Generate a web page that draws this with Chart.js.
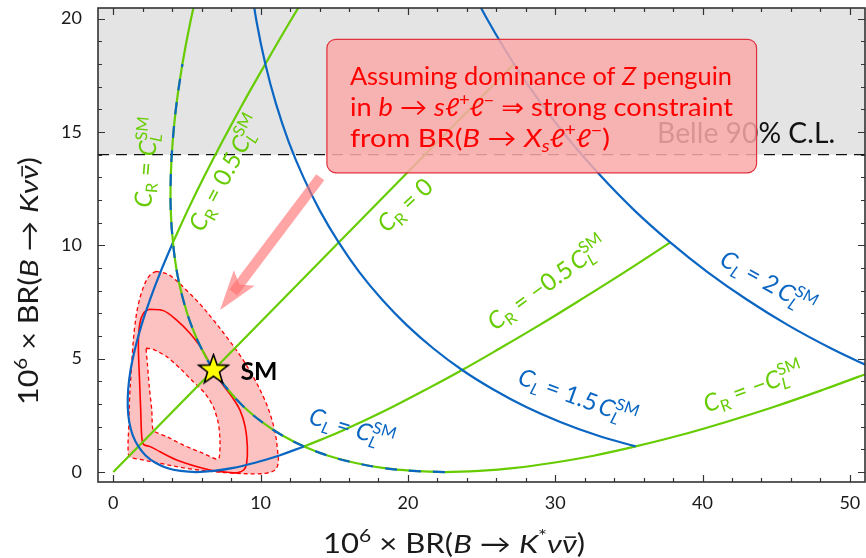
<!DOCTYPE html>
<html>
<head>
<meta charset="utf-8">
<script src="https://cdn.jsdelivr.net/npm/chart.js@4.4.1/dist/chart.umd.min.js"></script>
<style>
  html, body { margin: 0; padding: 0; background: #ffffff; }
  #wrap { width: 866px; height: 558px; }
</style>
</head>
<body>
<div id="wrap"><canvas id="c" width="866" height="558"></canvas></div>
<script>
// ---- axis ticks ----
const xTickLabels = [0, 10, 20, 30, 40, 50];
const yTickLabels = [0, 5, 10, 15, 20];
const xTickMarks = [0, 2, 4, 6, 8, 10, 12, 14, 16, 18, 20, 22, 24, 26, 28, 30, 32, 34, 36, 38, 40, 42, 44, 46, 48, 50];
const yTickMarks = [0, 1, 2, 3, 4, 5, 6, 7, 8, 9, 10, 11, 12, 13, 14, 15, 16, 17, 18, 19, 20];

// ---- experimental bound ----
const belleLimit = 14;

// ---- Standard Model point: [BR(K* nu nu), BR(K nu nu)] x 1e6 ----
const smPoint = [6.8, 4.5];

// ---- C_L = C_L^SM curve (same locus as C_R = +-C_L^SM), C_R from -2 to 1.2 ----
const clOneX = [51.82, 48.27, 44.87, 41.60, 38.46, 35.46, 32.60, 29.87, 27.28, 24.83, 22.51, 20.33, 18.28, 16.37, 14.59, 12.95, 11.45, 10.08, 8.85, 7.76, 6.80, 5.98, 5.29, 4.74, 4.32, 4.05, 3.90, 3.90, 4.03, 4.29, 4.69, 5.23, 5.90];
const clOneY = [4.50, 3.65, 2.88, 2.21, 1.62, 1.13, 0.72, 0.41, 0.18, 0.05, 0.00, 0.05, 0.18, 0.41, 0.72, 1.13, 1.62, 2.21, 2.88, 3.65, 4.50, 5.45, 6.48, 7.61, 8.82, 10.13, 11.52, 13.01, 14.58, 16.25, 18.00, 19.85, 21.78];

// ---- C_L = 0.5 C_L^SM curve (same locus as C_R = +-0.5 C_L^SM) ----
const clHalfX = [37.81, 34.71, 31.75, 28.92, 26.23, 23.68, 21.26, 18.98, 16.84, 14.83, 12.95, 11.22, 9.62, 8.15, 6.82, 5.63, 4.57, 3.65, 2.86, 2.21, 1.70, 1.32, 1.08, 0.98, 1.01, 1.17, 1.48, 1.91, 2.49, 3.20, 4.05, 5.03, 6.15, 7.40, 8.79, 10.32, 11.98, 13.78];
const clHalfY = [10.13, 8.82, 7.61, 6.48, 5.45, 4.50, 3.65, 2.88, 2.21, 1.62, 1.13, 0.72, 0.41, 0.18, 0.05, 0.00, 0.05, 0.18, 0.41, 0.72, 1.13, 1.62, 2.21, 2.88, 3.65, 4.50, 5.45, 6.48, 7.61, 8.82, 10.13, 11.52, 13.01, 14.58, 16.25, 18.00, 19.85, 21.78];

// ---- C_L = 1.5 C_L^SM ----
const clOneHalfX = [35.46, 32.83, 30.34, 27.99, 25.77, 23.68, 21.73, 19.92, 18.24, 16.70, 15.30, 14.03, 12.90, 11.90, 11.04, 10.32, 9.73, 9.28];
const clOneHalfY = [1.13, 1.62, 2.21, 2.88, 3.65, 4.50, 5.45, 6.48, 7.61, 8.82, 10.13, 11.52, 13.01, 14.58, 16.25, 18.00, 19.85, 21.78];

// ---- C_L = 2 C_L^SM ----
const clTwoX = [51.82, 48.74, 45.80, 43.00, 40.34, 37.81, 35.41, 33.16, 31.04, 29.05, 27.20, 25.49, 23.91];
const clTwoY = [4.50, 5.45, 6.48, 7.61, 8.82, 10.13, 11.52, 13.01, 14.58, 16.25, 18.00, 19.85, 21.78];

// ---- C_R = 0 ----
const crZeroX = [0, 27.2];
const crZeroY = [0, 18.0];

// ---- b -> s l l constraint region ----
const outerX = [2.9, 3.6, 4.1, 5.0, 5.9, 6.8, 7.7, 8.6, 9.5, 10.2, 10.65, 11.0, 11.15, 11.2, 11.0, 10.4, 9.5, 8.2, 6.8, 5.0, 3.2, 1.8, 1.1, 1.0, 1.05, 1.1, 1.2, 1.3, 1.45, 1.7, 2.1, 2.5, 2.9];
const outerY = [8.85, 8.75, 8.55, 8.0, 7.4, 6.7, 5.95, 5.15, 4.2, 3.3, 2.55, 1.7, 0.95, 0.45, 0.1, -0.05, -0.08, -0.05, 0.02, 0.16, 0.38, 0.56, 0.68, 1.1, 2.0, 3.2, 4.3, 5.3, 6.4, 7.4, 8.25, 8.7, 8.85];
const solidX = [2.4, 3.4, 4.3, 5.2, 5.9, 6.55, 7.35, 8.05, 8.6, 8.95, 9.1, 9.05, 8.85, 8.4, 7.9, 6.55, 4.3, 2.5, 2.05, 1.93, 1.86, 1.77, 1.70, 1.80, 2.04, 2.4];
const solidY = [7.18, 7.12, 6.7, 6.12, 5.53, 4.8, 3.92, 3.32, 2.73, 2.0, 1.12, 0.38, 0.09, -0.03, -0.02, 0.09, 0.53, 1.12, 1.22, 1.56, 2.73, 4.2, 5.68, 6.56, 7.0, 7.18];
const innerX = [2.22, 2.72, 3.62, 4.53, 5.43, 6.22, 6.79, 7.13, 7.24, 7.20, 7.06, 6.11, 4.75, 3.62, 2.83, 2.67, 2.61, 2.44, 2.31, 2.22];
const innerY = [5.46, 5.41, 5.09, 4.57, 3.98, 3.47, 2.88, 2.15, 1.41, 0.67, 0.56, 0.82, 1.19, 1.56, 1.78, 1.93, 2.73, 3.76, 4.79, 5.46];

// ---- styling ----
const FONT = 'Lato, "DejaVu Sans", sans-serif';
const GREEN = '#66cc00';
const BLUE = '#0a66c2';
const RED = '#ff0000';

const pts = (xs, ys, a = 0, b = xs.length - 1) => xs.slice(a, b + 1).map((x, i) => ({ x, y: ys[a + i] }));

// ---- rich text helpers (italics, sub/superscripts, overbar) ----
function layoutRich(ctx, parts, size, weight) {
  let x = 0, prev = null;
  const items = [];
  for (const p of parts) {
    const s = (p.sup || p.sub) ? size * 0.68 : size;
    const font = `${p.it ? 'italic ' : ''}${weight ? weight + ' ' : ''}${s}px ${FONT}`;
    ctx.font = font;
    const w = ctx.measureText(p.t).width;
    const sx = (p.over && prev) ? prev.x : x;
    const dy = p.sup ? -0.42 * size : p.sub ? 0.2 * size : 0;
    const item = { t: p.t, font, x: sx, dy, w, bar: p.bar };
    x = (p.over && prev) ? Math.max(prev.x + prev.w, sx + w) : sx + w;
    items.push(item);
    prev = item;
  }
  return { items, width: x };
}
function drawRich(ctx, parts, size, opts) {
  const { items, width } = layoutRich(ctx, parts, size, opts.weight);
  const sx = opts.width ? opts.width / width : 1;
  const x0 = opts.align === 'center' ? -width * sx / 2 : opts.align === 'right' ? -width * sx : 0;
  ctx.save();
  ctx.translate(x0, 0);
  ctx.scale(sx, 1);
  ctx.fillStyle = opts.color;
  ctx.textAlign = 'left';
  ctx.textBaseline = 'alphabetic';
  for (const it of items) {
    ctx.font = it.font;
    ctx.fillText(it.t, it.x, it.dy);
    if (it.bar) ctx.fillRect(it.x + it.w * 0.22, -size * 0.64, it.w * 0.72, size * 0.06);
  }
  ctx.restore();
}

const CLSM = [{ t: 'C', it: true }, { t: 'L', it: true, sub: true }, { t: 'SM', sup: true, over: true }];
const curveLabels = [
  { parts: [{ t: 'C', it: true }, { t: 'R', sub: true }, { t: ' = ' }, ...CLSM], x: 2.25, y: 13.67, angle: -85, color: GREEN },
  { parts: [{ t: 'C', it: true }, { t: 'R', sub: true }, { t: ' = 0.5\u2009' }, ...CLSM], x: 7.58, y: 13.19, angle: -62, color: GREEN },
  { parts: [{ t: 'C', it: true }, { t: 'R', sub: true }, { t: ' = 0' }], x: 19.8, y: 11.78, angle: -43, color: GREEN },
  { parts: [{ t: 'C', it: true }, { t: 'R', sub: true }, { t: ' = \u22120.5\u2009' }, ...CLSM], x: 29.44, y: 8.34, angle: -36, color: GREEN },
  { parts: [{ t: 'C', it: true }, { t: 'R', sub: true }, { t: ' = \u2212' }, ...CLSM], x: 43.43, y: 3.75, angle: -20, color: GREEN },
  { parts: [{ t: 'C', it: true }, { t: 'L', it: true, sub: true }, { t: ' = 2\u2009' }, ...CLSM], x: 44.45, y: 8.38, angle: 29, color: BLUE },
  { parts: [{ t: 'C', it: true }, { t: 'L', it: true, sub: true }, { t: ' = 1.5\u2009' }, ...CLSM], x: 31.54, y: 3.31, angle: 20, color: BLUE },
  { parts: [{ t: 'C', it: true }, { t: 'L', it: true, sub: true }, { t: ' = ' }, ...CLSM], x: 16.2, y: 1.94, angle: 17, color: BLUE }
];

const boxLines = [
  [{ t: 'Assuming dominance of ' }, { t: 'Z', it: true }, { t: ' penguin' }],
  [{ t: 'in ' }, { t: 'b', it: true }, { t: ' \u2192 ' }, { t: 's\u2113', it: true }, { t: '+', sup: true }, { t: '\u2113', it: true }, { t: '\u2212', sup: true }, { t: ' \u21d2 strong constraint' }],
  [{ t: 'from BR(' }, { t: 'B', it: true }, { t: ' \u2192 ' }, { t: 'X', it: true }, { t: 's', it: true, sub: true }, { t: '\u2113', it: true }, { t: '+', sup: true }, { t: '\u2113', it: true }, { t: '\u2212', sup: true }, { t: ')' }]
];
const boxLineWidths = [382, 383, 260];
const box = { x0: 14.5, x1: 43.67, y0: 19.09, y1: 13.2 };
const arrow = { from: [14.05, 13.0], to: [7.25, 7.15] };

const xTitle = [{ t: '10' }, { t: '6', sup: true }, { t: ' \u00d7 BR(' }, { t: 'B', it: true }, { t: ' \u2192 ' }, { t: 'K', it: true }, { t: '*', sup: true }, { t: '\u03bd', it: true }, { t: '\u03bd', it: true, bar: true }, { t: ')' }];
const yTitle = [{ t: '10' }, { t: '6', sup: true }, { t: ' \u00d7 BR(' }, { t: 'B', it: true }, { t: ' \u2192 ' }, { t: 'K', it: true }, { t: '\u03bd', it: true }, { t: '\u03bd', it: true, bar: true }, { t: ')' }];

function starImage(R, r) {
  const size = Math.ceil(2 * R + 4);
  const c = document.createElement('canvas');
  c.width = c.height = size;
  const g = c.getContext('2d');
  const cx = size / 2, cy = size / 2;
  g.beginPath();
  for (let i = 0; i < 10; i++) {
    const rad = i % 2 ? r : R;
    const ang = -Math.PI / 2 + i * Math.PI / 5;
    if (i === 0) g.moveTo(cx + rad * Math.cos(ang), cy + rad * Math.sin(ang));
    else g.lineTo(cx + rad * Math.cos(ang), cy + rad * Math.sin(ang));
  }
  g.closePath();
  g.fillStyle = '#ffff00';
  g.fill();
  g.lineWidth = 1.6;
  g.strokeStyle = '#000';
  g.stroke();
  return c;
}

const LABEL_SIZE = 24;

const decor = {
  id: 'decor',
  beforeDatasetsDraw(chart) {
    const { ctx, chartArea: a, scales: { x, y } } = chart;
    ctx.save();
    ctx.beginPath();
    ctx.rect(a.left, a.top, a.right - a.left, a.bottom - a.top);
    ctx.clip();
    const yb = y.getPixelForValue(belleLimit);
    ctx.fillStyle = '#e4e4e4';
    ctx.fillRect(a.left, a.top, a.right - a.left, yb - a.top);
    ctx.strokeStyle = '#111';
    ctx.lineWidth = 1.3;
    ctx.setLineDash([11, 7]);
    ctx.beginPath();
    ctx.moveTo(a.left, yb);
    ctx.lineTo(a.right, yb);
    ctx.stroke();
    ctx.setLineDash([]);
    ctx.translate(x.getPixelForValue(49.0), y.getPixelForValue(14.51));
    drawRich(ctx, [{ t: 'Belle 90% C.L.' }], 28, { align: 'right', color: '#111', width: 178 });
    ctx.restore();
  },
  afterDatasetsDraw(chart) {
    const { ctx, scales: { x, y } } = chart;
    // arrow
    const tx = x.getPixelForValue(arrow.from[0]), ty = y.getPixelForValue(arrow.from[1]);
    const hx = x.getPixelForValue(arrow.to[0]), hy = y.getPixelForValue(arrow.to[1]);
    const len = Math.hypot(hx - tx, hy - ty);
    const ux = (hx - tx) / len, uy = (hy - ty) / len, nx = -uy, ny = ux;
    const HL = 40, HW = 13, SW = 5;
    ctx.save();
    ctx.fillStyle = 'rgba(255,110,110,0.62)';
    const se = len - HL * 0.55;
    ctx.beginPath();
    ctx.moveTo(tx + nx * SW, ty + ny * SW);
    ctx.lineTo(tx + ux * se + nx * SW, ty + uy * se + ny * SW);
    ctx.lineTo(tx + ux * se - nx * SW, ty + uy * se - ny * SW);
    ctx.lineTo(tx - nx * SW, ty - ny * SW);
    ctx.closePath();
    ctx.fill();
    const bx = hx - ux * HL, by = hy - uy * HL;
    const kx = hx - ux * HL * 0.8, ky = hy - uy * HL * 0.8;
    ctx.beginPath();
    ctx.moveTo(hx, hy);
    ctx.lineTo(bx + nx * HW, by + ny * HW);
    ctx.lineTo(kx, ky);
    ctx.lineTo(bx - nx * HW, by - ny * HW);
    ctx.closePath();
    ctx.fill();
    ctx.restore();

    // curve labels
    for (const lb of curveLabels) {
      ctx.save();
      ctx.translate(x.getPixelForValue(lb.x), y.getPixelForValue(lb.y));
      ctx.rotate(lb.angle * Math.PI / 180);
      ctx.translate(0, LABEL_SIZE * 0.35);
      drawRich(ctx, lb.parts, LABEL_SIZE, { align: 'center', color: lb.color });
      ctx.restore();
    }

    // SM label
    ctx.save();
    ctx.translate(x.getPixelForValue(smPoint[0]) + 27, y.getPixelForValue(smPoint[1]) + 10);
    drawRich(ctx, [{ t: 'SM' }], 25, { align: 'left', color: '#000', weight: 'bold', width: 37 });
    ctx.restore();

    // annotation box
    const bl = x.getPixelForValue(box.x0), br = x.getPixelForValue(box.x1);
    const bt = y.getPixelForValue(box.y0), bb = y.getPixelForValue(box.y1);
    ctx.save();
    ctx.beginPath();
    ctx.roundRect(bl, bt, br - bl, bb - bt, 9);
    ctx.fillStyle = 'rgba(250,169,169,0.85)';
    ctx.fill();
    ctx.strokeStyle = '#e0303c';
    ctx.lineWidth = 1.2;
    ctx.stroke();
    const offs = [45.7, 77.2, 107.7];
    boxLines.forEach((ln, i) => {
      ctx.save();
      ctx.translate(bl + 23, bt + offs[i]);
      drawRich(ctx, ln, 25, { align: 'left', color: '#ff0000', width: boxLineWidths[i] });
      ctx.restore();
    });
    ctx.restore();
  },
  afterDraw(chart) {
    const { ctx, chartArea: a, scales: { x, y } } = chart;
    ctx.save();
    ctx.strokeStyle = '#333';
    ctx.lineWidth = 1.2;
    ctx.beginPath();
    for (const v of xTickMarks) {
      const px = Math.round(x.getPixelForValue(v)) + 0.5;
      const l = xTickLabels.includes(v) ? 7 : 4;
      ctx.moveTo(px, a.bottom); ctx.lineTo(px, a.bottom - l);
      ctx.moveTo(px, a.top); ctx.lineTo(px, a.top + l);
    }
    for (const v of yTickMarks) {
      const py = Math.round(y.getPixelForValue(v)) + 0.5;
      const l = yTickLabels.includes(v) ? 7 : 4;
      ctx.moveTo(a.left, py); ctx.lineTo(a.left + l, py);
      ctx.moveTo(a.right, py); ctx.lineTo(a.right - l, py);
    }
    ctx.stroke();
    ctx.lineWidth = 1.6;
    ctx.strokeRect(a.left, a.top, a.right - a.left, a.bottom - a.top);

    ctx.fillStyle = '#1a1a1a';
    ctx.font = `18px ${FONT}`;
    ctx.textAlign = 'center';
    ctx.textBaseline = 'middle';
    for (const v of xTickLabels) ctx.fillText(String(v), x.getPixelForValue(v), a.bottom + 21);
    ctx.textAlign = 'right';
    for (const v of yTickLabels) ctx.fillText(String(v), a.left - 16, y.getPixelForValue(v));

    ctx.save();
    ctx.translate(454, 553);
    drawRich(ctx, xTitle, 26, { align: 'center', color: '#1a1a1a', width: 262 });
    ctx.restore();
    ctx.save();
    ctx.translate(38, 281);
    ctx.rotate(-Math.PI / 2);
    drawRich(ctx, yTitle, 26, { align: 'center', color: '#1a1a1a', width: 248 });
    ctx.restore();
    ctx.restore();
  }
};

const line = (data, color, extra) => Object.assign({
  data, showLine: true, borderColor: color, borderWidth: 2.2, fill: false,
  pointRadius: 0, tension: 0.4
}, extra || {});

const datasets = [
  line(pts(outerX, outerY), RED, { fill: 'shape', backgroundColor: '#fcc2c2', borderWidth: 1.3, borderDash: [4, 3], tension: 0.35, order: 100 }),
  line(pts(innerX, innerY), RED, { fill: 'shape', backgroundColor: '#ffffff', borderWidth: 1.3, borderDash: [4, 3], tension: 0.25, order: 99 }),
  line(pts(solidX, solidY), RED, { borderWidth: 1.6, tension: 0.35, order: 98 }),
  line(pts(crZeroX, crZeroY), GREEN, { order: 60 }),
  line(pts(clHalfX, clHalfY, 0, 10), GREEN, { order: 56 }),
  line(pts(clHalfX, clHalfY, 30, 37), GREEN, { order: 56 }),
  line(pts(clHalfX, clHalfY, 10, 30), BLUE, { order: 55 }),
  line(pts(clOneX, clOneY), GREEN, { order: 54 }),
  line(pts(clOneX, clOneY, 10, 30), BLUE, { borderDash: [12, 12], order: 53 }),
  line(pts(clOneHalfX, clOneHalfY), BLUE, { order: 52 }),
  line(pts(clTwoX, clTwoY), BLUE, { order: 51 }),
  { data: [{ x: smPoint[0], y: smPoint[1] }], showLine: false, pointStyle: starImage(15.5, 6.3), pointRadius: 15, order: 0 }
];

new Chart(document.getElementById('c').getContext('2d'), {
  type: 'scatter',
  data: { datasets },
  options: {
    responsive: false,
    animation: false,
    devicePixelRatio: 1,
    events: [],
    layout: { autoPadding: false, padding: { top: 8, right: 1, left: 0, bottom: 0 } },
    plugins: { legend: { display: false }, tooltip: { enabled: false } },
    scales: {
      x: {
        type: 'linear', min: -1.04, max: 51.03,
        grid: { display: false, drawTicks: false }, border: { display: false },
        ticks: { display: false },
        afterFit: s => { s.height = 76; }
      },
      y: {
        type: 'linear', min: -0.44, max: 20.47,
        grid: { display: false, drawTicks: false }, border: { display: false },
        ticks: { display: false },
        afterFit: s => { s.width = 98; }
      }
    }
  },
  plugins: [decor]
});
</script>
</body>
</html>
